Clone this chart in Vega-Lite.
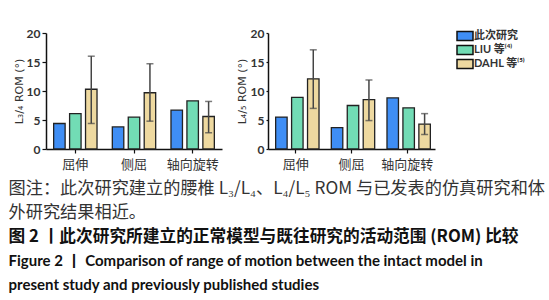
{
  "$schema": "https://vega.github.io/schema/vega-lite/v6.json",
  "padding": {"left": 8, "top": 27, "right": 5, "bottom": 5},
  "background": "white",
  "datasets": {
    "rom": [
      {"panel": "L34", "motion": "屈伸", "study": "此次研究", "rom": 4.4, "lo": null, "hi": null},
      {"panel": "L34", "motion": "屈伸", "study": "LIU 等⁽⁴⁾", "rom": 6.1, "lo": null, "hi": null},
      {"panel": "L34", "motion": "屈伸", "study": "DAHL 等⁽⁵⁾", "rom": 10.3, "lo": 4.4, "hi": 16.0},
      {"panel": "L34", "motion": "侧屈", "study": "此次研究", "rom": 3.8, "lo": null, "hi": null},
      {"panel": "L34", "motion": "侧屈", "study": "LIU 等⁽⁴⁾", "rom": 5.5, "lo": null, "hi": null},
      {"panel": "L34", "motion": "侧屈", "study": "DAHL 等⁽⁵⁾", "rom": 9.7, "lo": 4.8, "hi": 14.7},
      {"panel": "L34", "motion": "轴向旋转", "study": "此次研究", "rom": 6.7, "lo": null, "hi": null},
      {"panel": "L34", "motion": "轴向旋转", "study": "LIU 等⁽⁴⁾", "rom": 8.3, "lo": null, "hi": null},
      {"panel": "L34", "motion": "轴向旋转", "study": "DAHL 等⁽⁵⁾", "rom": 5.6, "lo": 2.8, "hi": 8.2},
      {"panel": "L45", "motion": "屈伸", "study": "此次研究", "rom": 5.5, "lo": null, "hi": null},
      {"panel": "L45", "motion": "屈伸", "study": "LIU 等⁽⁴⁾", "rom": 8.9, "lo": null, "hi": null},
      {"panel": "L45", "motion": "屈伸", "study": "DAHL 等⁽⁵⁾", "rom": 12.1, "lo": 7.0, "hi": 17.1},
      {"panel": "L45", "motion": "侧屈", "study": "此次研究", "rom": 3.7, "lo": null, "hi": null},
      {"panel": "L45", "motion": "侧屈", "study": "LIU 等⁽⁴⁾", "rom": 7.5, "lo": null, "hi": null},
      {"panel": "L45", "motion": "侧屈", "study": "DAHL 等⁽⁵⁾", "rom": 8.5, "lo": 4.9, "hi": 11.9},
      {"panel": "L45", "motion": "轴向旋转", "study": "此次研究", "rom": 8.8, "lo": null, "hi": null},
      {"panel": "L45", "motion": "轴向旋转", "study": "LIU 等⁽⁴⁾", "rom": 7.1, "lo": null, "hi": null},
      {"panel": "L45", "motion": "轴向旋转", "study": "DAHL 等⁽⁵⁾", "rom": 4.3, "lo": 2.5, "hi": 6.1}
    ],
    "caption": [
      {"line": 1, "part": "note", "text": "图注：此次研究建立的腰椎 L₃/L₄、L₄/L₅ ROM 与已发表的仿真研究和体"},
      {"line": 2, "part": "note", "text": "外研究结果相近。"},
      {"line": 3, "part": "title_zh", "text": "图 2 丨此次研究所建立的正常模型与既往研究的活动范围 (ROM) 比较"},
      {"line": 4, "part": "title_en", "text": "Figure 2  丨  Comparison of range of motion between the intact model in"},
      {"line": 5, "part": "title_en", "text": "present study and previously published studies"}
    ]
  },
  "config": {
    "view": {"stroke": null},
    "axis": {
      "domainColor": "#111",
      "domainWidth": 1.5,
      "tickColor": "#111",
      "tickWidth": 1.2,
      "tickSize": 4,
      "grid": false,
      "labelColor": "#333",
      "titleColor": "#333"
    },
    "axisY": {
      "labelFont": "Lato",
      "labelFontWeight": "bold",
      "labelFontSize": 12,
      "titleFont": "DejaVu Sans",
      "titleFontSize": 11,
      "titleFontWeight": "normal",
      "labelOverlap": false
    }
  },
  "spacing": 6,
  "vconcat": [
    {
      "spacing": 14,
      "resolve": {"legend": {"color": "independent"}},
      "hconcat": [
        {
          "width": 176,
          "height": 116,
          "data": {"name": "rom"},
          "transform": [{"filter": "datum.panel === 'L34'"}],
          "encoding": {
            "x": {"field": "motion", "type": "nominal", "sort": ["屈伸", "侧屈", "轴向旋转"], "scale": {"paddingInner": 0, "paddingOuter": 0}, "axis": {"title": null, "labelAngle": 0, "labelFont": "Noto Sans CJK SC", "labelFontSize": 13, "labelPadding": 5}},
            "xOffset": {"field": "study", "type": "nominal", "sort": ["此次研究", "LIU 等⁽⁴⁾", "DAHL 等⁽⁵⁾"], "scale": {"paddingInner": 0.28, "paddingOuter": 0.48}}
          },
          "layer": [
            {
              "mark": {"type": "bar", "stroke": "#222", "strokeWidth": 1.3},
              "encoding": {
                "y": {"field": "rom", "type": "quantitative", "scale": {"domain": [0, 20]}, "axis": {"title": "L₃/₄ ROM (°)", "values": [0, 5, 10, 15, 20], "titlePadding": 2}},
                "color": {"field": "study", "type": "nominal", "scale": {"domain": ["此次研究", "LIU 等⁽⁴⁾", "DAHL 等⁽⁵⁾"], "range": ["#3f8ef5", "#72dcb5", "#eed9a0"]}, "legend": null}
              }
            },
            {
              "transform": [{"filter": "datum.hi != null"}],
              "mark": {"type": "rule", "color": "#444", "strokeWidth": 1.5},
              "encoding": {"y": {"field": "lo", "type": "quantitative", "axis": {"title": "L₃/₄ ROM (°)", "values": [0, 5, 10, 15, 20], "titlePadding": 2}}, "y2": {"field": "hi"}}
            },
            {
              "transform": [{"filter": "datum.hi != null"}],
              "mark": {"type": "tick", "color": "#444", "thickness": 1.5, "size": 7},
              "encoding": {"y": {"field": "hi", "type": "quantitative", "axis": {"title": "L₃/₄ ROM (°)", "values": [0, 5, 10, 15, 20], "titlePadding": 2}}}
            },
            {
              "transform": [{"filter": "datum.hi != null"}],
              "mark": {"type": "tick", "color": "#444", "thickness": 1.5, "size": 7},
              "encoding": {"y": {"field": "lo", "type": "quantitative", "axis": {"title": "L₃/₄ ROM (°)", "values": [0, 5, 10, 15, 20], "titlePadding": 2}}}
            }
          ]
        },
        {
          "width": 167,
          "height": 116,
          "data": {"name": "rom"},
          "transform": [{"filter": "datum.panel === 'L45'"}],
          "encoding": {
            "x": {"field": "motion", "type": "nominal", "sort": ["屈伸", "侧屈", "轴向旋转"], "scale": {"paddingInner": 0, "paddingOuter": 0}, "axis": {"title": null, "labelAngle": 0, "labelFont": "Noto Sans CJK SC", "labelFontSize": 13, "labelPadding": 5}},
            "xOffset": {"field": "study", "type": "nominal", "sort": ["此次研究", "LIU 等⁽⁴⁾", "DAHL 等⁽⁵⁾"], "scale": {"paddingInner": 0.28, "paddingOuter": 0.48}}
          },
          "layer": [
            {
              "mark": {"type": "bar", "stroke": "#222", "strokeWidth": 1.3},
              "encoding": {
                "y": {"field": "rom", "type": "quantitative", "scale": {"domain": [0, 20]}, "axis": {"title": "L₄/₅ ROM (°)", "values": [0, 5, 10, 15, 20], "titlePadding": 3, "tickSize": 2}},
                "color": {
                  "field": "study", "type": "nominal",
                  "scale": {"domain": ["此次研究", "LIU 等⁽⁴⁾", "DAHL 等⁽⁵⁾"], "range": ["#3f8ef5", "#72dcb5", "#eed9a0"]},
                  "legend": {
                    "title": null,
                    "orient": "none",
                    "legendX": 191,
                    "legendY": -3,
                    "symbolType": "M-1.6,-0.9H1.6V0.9H-1.6Z",
                    "symbolSize": 100,
                    "symbolStrokeColor": "#111",
                    "symbolStrokeWidth": 1.5,
                    "symbolOpacity": 1,
                    "labelFont": "Lato, Noto Sans CJK SC",
                    "labelFontWeight": "bold",
                    "labelFontSize": 11,
                    "labelColor": "#333",
                    "labelOffset": 3,
                    "rowPadding": -2
                  }
                }
              }
            },
            {
              "transform": [{"filter": "datum.hi != null"}],
              "mark": {"type": "rule", "color": "#444", "strokeWidth": 1.5},
              "encoding": {"y": {"field": "lo", "type": "quantitative", "axis": {"title": "L₄/₅ ROM (°)", "values": [0, 5, 10, 15, 20], "titlePadding": 3, "tickSize": 2}}, "y2": {"field": "hi"}}
            },
            {
              "transform": [{"filter": "datum.hi != null"}],
              "mark": {"type": "tick", "color": "#444", "thickness": 1.5, "size": 7},
              "encoding": {"y": {"field": "hi", "type": "quantitative", "axis": {"title": "L₄/₅ ROM (°)", "values": [0, 5, 10, 15, 20], "titlePadding": 3, "tickSize": 2}}}
            },
            {
              "transform": [{"filter": "datum.hi != null"}],
              "mark": {"type": "tick", "color": "#444", "thickness": 1.5, "size": 7},
              "encoding": {"y": {"field": "lo", "type": "quantitative", "axis": {"title": "L₄/₅ ROM (°)", "values": [0, 5, 10, 15, 20], "titlePadding": 3, "tickSize": 2}}}
            }
          ]
        }
      ]
    },
    {
      "width": 535,
      "height": 120,
      "data": {"name": "caption"},
      "encoding": {
        "y": {"field": "line", "type": "ordinal", "scale": {"type": "point", "padding": 0.5}, "axis": null},
        "x": {"datum": 0, "type": "quantitative", "scale": {"domain": [0.07, 1.07]}, "axis": null},
        "text": {"field": "text"}
      },
      "layer": [
        {
          "transform": [{"filter": "datum.part === 'note'"}],
          "mark": {"type": "text", "align": "left", "baseline": "middle", "font": "Noto Sans CJK SC", "fontSize": 17.2, "color": "#333"}
        },
        {
          "transform": [{"filter": "datum.part === 'title_zh'"}],
          "mark": {"type": "text", "align": "left", "baseline": "middle", "font": "Noto Sans CJK SC", "fontSize": 16.7, "fontWeight": "bold", "color": "#111"}
        },
        {
          "transform": [{"filter": "datum.part === 'title_en'"}],
          "mark": {"type": "text", "align": "left", "baseline": "middle", "font": "Lato, Noto Sans CJK SC", "fontSize": 15, "fontWeight": "bold", "color": "#111"}
        }
      ]
    }
  ]
}
